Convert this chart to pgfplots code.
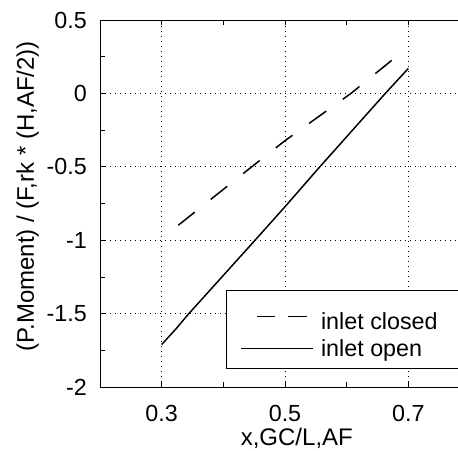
\documentclass[border=0pt]{standalone}
\usepackage{pgfplots}
\pgfplotsset{compat=1.18}
\usepackage{fontspec}
\setmainfont{Liberation Sans}
\newcommand{\bigf}{\fontsize{23.3}{28}\selectfont}
\begin{document}
\begin{tikzpicture}
\begin{axis}[
  name=ax,
  scale only axis,
  width=370pt, height=367pt,
  xmin=0.2, xmax=0.8, ymin=-2, ymax=0.5,
  xtick={0.3,0.5,0.7},
  ytick={-2,-1.5,-1,-0.5,0,0.5},
  minor x tick num=1, minor y tick num=1,
  tick align=inside,
  major tick length=5pt, minor tick length=5pt,
  tick style={black, line width=0.7pt},
  axis line style={line width=0.9pt},
  grid=major,
  major grid style={black, line width=0.7pt, dash pattern=on 1pt off 4pt},
  /pgf/number format/assume math mode=true,
  tick label style={font=\bigf},
  label style={font=\fontsize{24}{28}\selectfont},
  yticklabel style={inner sep=0pt, xshift=-13pt},
  xticklabel style={inner sep=0pt, yshift=-18pt},
  xlabel={x,GC/L,AF},
  ylabel={(P.Moment) / (F,rk * (H,AF/2))},
  xlabel style={at={(axis description cs:0.532,0)}, anchor=base, yshift=-58pt, inner sep=0pt},
  ylabel style={at={(axis description cs:0,0.52)}, anchor=base, yshift=66pt, inner sep=0pt},
  legend style={at={(rel axis cs:0.341,0.049)}, anchor=south west, draw=black, line width=0.8pt,
    inner xsep=14pt, inner ysep=11pt, row sep=8pt, column sep=0pt,
    nodes={inner sep=0pt},
    font=\bigf},
  legend cell align=left,
  legend image code/.code={\draw[#1, line width=1.5pt] (0pt,0pt) -- (72pt,0pt);},
]
\addplot[black, line width=1.5pt, dash pattern=on 21pt off 20.45pt,
  legend image post style={dash pattern=on 18pt off 13pt on 19pt off 22pt, dash phase=56pt}] coordinates {
  (0.327,-0.898) (0.4445,-0.505) (0.5,-0.322) (0.607,0.0) (0.6736,0.227)
};
\addlegendentry{\rule{0pt}{28pt}\hspace*{7pt}inlet closed\hspace*{30pt}}
\addplot[black, line width=1.5pt] coordinates {
  (0.3,-1.711) (0.324,-1.60) (0.342,-1.51) (0.4536,-0.99) (0.5,-0.772) (0.554,-0.512) (0.6616,-0.005) (0.7,0.170)
};
\addlegendentry{\hspace*{7pt}inlet open}
\end{axis}
\pgfresetboundingbox
\path[use as bounding box] ([xshift=-100pt,yshift=-63pt]ax.south west) rectangle ([xshift=358pt,yshift=387pt]ax.south west);
\end{tikzpicture}
\end{document}
